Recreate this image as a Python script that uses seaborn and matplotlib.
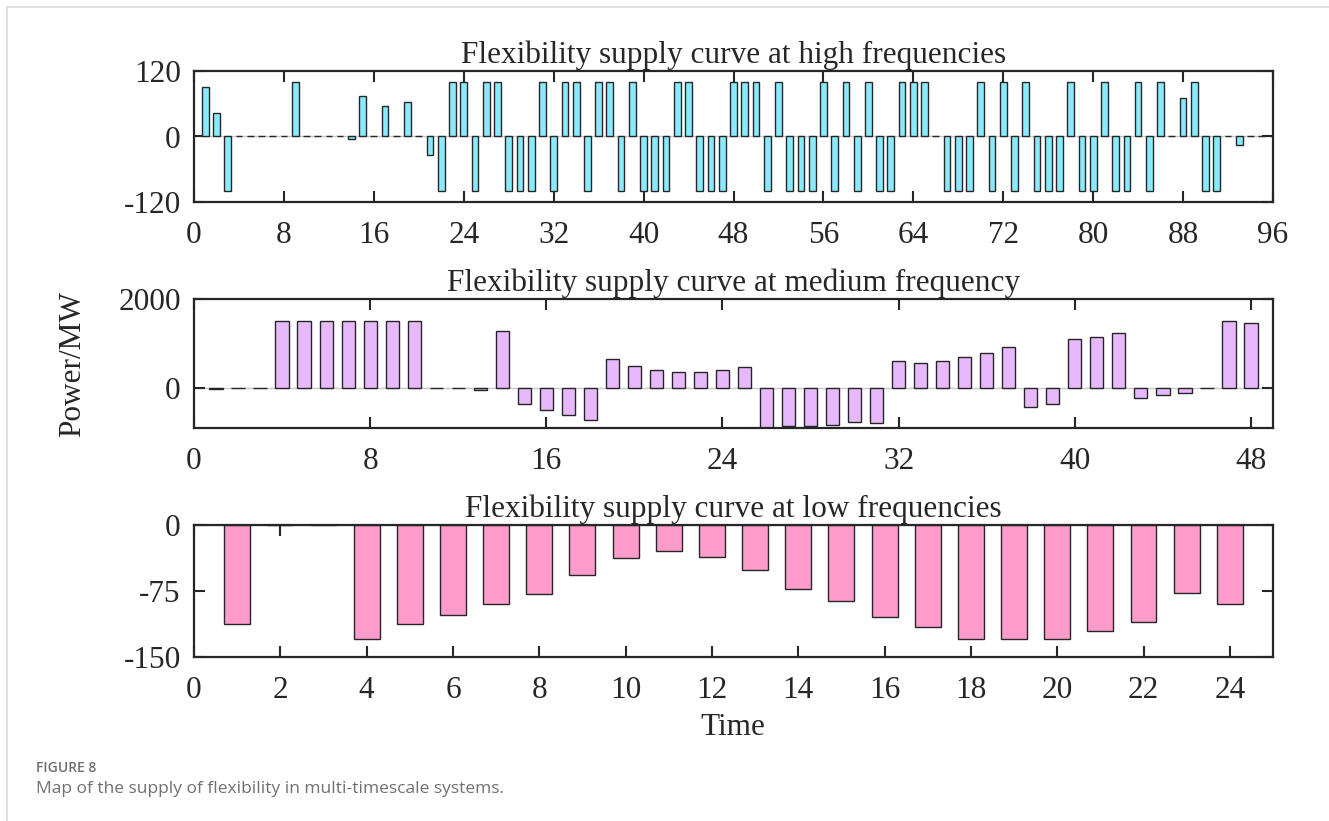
import matplotlib
matplotlib.use("Agg")
import matplotlib.pyplot as plt
from matplotlib.lines import Line2D
import numpy as np
import pandas as pd
import seaborn as sns

# ---------------- data ----------------
hf_time = list(range(1, 97))
hf_power = [90, 43, -100, 0, 0, 0, 0, 0, 100, 0,
            0, 0, 0, -4, 74, 0, 55, 0, 64, 0,
            -34, -100, 100, 100, -100, 100, 100, -100, -100, -100,
            100, -100, 100, 100, -100, 100, 100, -100, 100, -100,
            -100, -100, 100, 100, -100, -100, -100, 100, 100, 100,
            -100, 100, -100, -100, -100, 100, -100, 100, -100, 100,
            -100, -100, 100, 100, 100, 0, -100, -100, -100, 100,
            -100, 100, -100, 100, -100, -100, -100, 100, -100, -100,
            100, -100, -100, 100, -100, 100, 0, 71, 100, -100,
            -100, 0, -16, 0, 0, 0]

mf_time = list(range(1, 49))
mf_power = [-40, 0, 0, 1500, 1500, 1500, 1500, 1500, 1500, 1500,
            0, 0, -50, 1280, -376, -504, -617, -729, 647, 496,
            398, 353, 353, 398, 474, -915, -872, -865, -842, -789,
            -812, 594, 564, 609, 684, 789, 910, -436, -376, 1105,
            1135, 1226, -226, -173, -120, 0, 1500, 1457]

lf_time = list(range(1, 25))
lf_power = [-113, 0, 0, -129, -113, -102, -90, -78, -57, -37,
            -30, -36, -51, -73, -86, -104, -116, -129, -129, -129,
            -120, -110, -77, -90]

titles = ["Flexibility supply curve at high frequencies",
          "Flexibility supply curve at medium frequency",
          "Flexibility supply curve at low frequencies"]
colors = ["#8AEAFB", "#E7B8FB", "#FF9CCB"]
x_ticks = [list(range(0, 97, 8)), list(range(0, 49, 8)), list(range(0, 25, 2))]
x_lims = [(0, 96), (0, 49), (0, 25)]
y_ticks = [[-120, 0, 120], [0, 2000], [-150, -75, 0]]
y_lims = [(-120, 120), (-915, 2000), (-150, 0)]

# ---------------- style ----------------
sns.set_theme(style="white")
plt.rcParams["font.family"] = ["Liberation Serif", "DejaVu Serif"]
plt.rcParams["axes.unicode_minus"] = False

W, H = 1329, 821
fig = plt.figure(figsize=(W / 100, H / 100), dpi=100)
fig.patch.set_facecolor("white")

def fx(px):
    return px / W

def fy(py):
    return 1 - py / H

FS = 22.5
boxes = [(71, 202), (299, 428), (525, 657)]
left_px, right_px = 194, 1273

datasets = [(hf_time, hf_power), (mf_time, mf_power), (lf_time, lf_power)]
ink = "#262626"

for i, ((t, p), (top, bot)) in enumerate(zip(datasets, boxes)):
    ax = fig.add_axes([fx(left_px), fy(bot), fx(right_px - left_px), (bot - top) / H])
    df = pd.DataFrame({"t": t, "p": p})
    ax.axhline(0, color="#c8c8c8", lw=1.0, zorder=0)
    sns.barplot(data=df, x="t", y="p", native_scale=True, width=0.6,
                color=colors[i], saturation=1, edgecolor=ink, linewidth=1.0,
                errorbar=None, ax=ax, zorder=2)
    ax.set_xlim(*x_lims[i])
    ax.set_ylim(*y_lims[i])
    ax.set_xticks(x_ticks[i])
    ax.set_xticklabels([str(v) for v in x_ticks[i]])
    ax.set_yticks(y_ticks[i])
    ax.set_yticklabels([str(v) for v in y_ticks[i]])
    ax.set_xlabel("")
    ax.set_ylabel("")
    ax.tick_params(axis="both", which="both", direction="in", length=8, width=1.5,
                   color=ink, labelsize=FS, labelcolor=ink,
                   top=True, right=True, bottom=True, left=True)
    ax.tick_params(axis="x", pad=14)
    ax.tick_params(axis="y", pad=9.5)
    for s in ax.spines.values():
        s.set_visible(True)
        s.set_color(ink)
        s.set_linewidth(1.6)
    ax.set_title(titles[i], fontsize=FS, color=ink, pad=6)
    ax.grid(False)

fig.text(fx(73), fy(364), "Power/MW", rotation=90, ha="center", va="center",
         fontsize=FS, color=ink)
fig.text(fx(733), fy(727), "Time", ha="center", va="center", fontsize=FS, color=ink)

# caption
fig.text(fx(36), fy(768), "FIGURE 8", ha="left", va="center", fontsize=10,
         color="#6e6e6e", family=["Open Sans", "DejaVu Sans"], fontweight="semibold")
fig.text(fx(36), fy(789), "Map of the supply of flexibility in multi-timescale systems.",
         ha="left", va="center", fontsize=12.5, color="#707070",
         family=["Open Sans", "DejaVu Sans"])

# page border
fig.add_artist(Line2D([fx(7), 1], [fy(7), fy(7)], color="#d9d9d9", lw=1.2))
fig.add_artist(Line2D([fx(7), fx(7)], [fy(7), 0], color="#d9d9d9", lw=1.2))

fig.savefig("out.png", dpi=100, facecolor="white")
